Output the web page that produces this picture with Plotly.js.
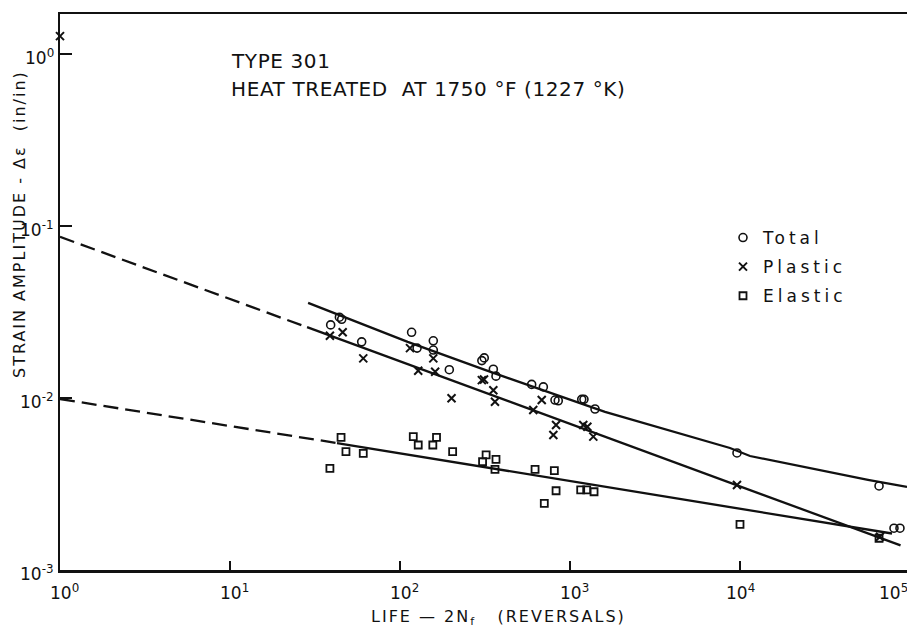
<!DOCTYPE html>
<html>
<head>
<meta charset="utf-8">
<script src="https://cdn.plot.ly/plotly-3.0.1.min.js"></script>
<style>
  html, body { margin: 0; padding: 0; background: #fff; }
  #chart { width: 907px; height: 627px; }
</style>
</head>
<body>
<div id="chart"></div>
<script>
// Type 301 stainless, strain amplitude vs. reversals to failure (log-log)

// Total strain amplitude measurements
const totalN = [39.1, 44.0, 45.4, 59.5, 117, 126, 157, 157, 195, 303, 313, 354, 367, 595, 697, 816, 853, 1172, 1208, 1403, 9600, 65750, 80500, 87300];
const totalE = [0.0266, 0.0295, 0.0287, 0.0212, 0.0241, 0.0195, 0.0215, 0.0190, 0.0146, 0.0165, 0.0171, 0.0147, 0.0134, 0.0120, 0.0116, 0.00973, 0.00964, 0.00982, 0.00982, 0.00863, 0.00479, 0.00308, 0.00175, 0.00175];

// Plastic strain amplitude (first point: fracture ductility at one reversal)
const plasticN = [1, 38.7, 46.0, 60.8, 114.5, 157, 128, 161, 201, 303, 312, 354, 362, 682, 608, 828, 798, 1197, 1265, 1371, 9600, 66600];
const plasticE = [1.27, 0.0230, 0.0241, 0.0170, 0.0195, 0.0170, 0.0144, 0.0142, 0.00996, 0.0127, 0.0128, 0.0111, 0.00952, 0.00973, 0.00851, 0.00697, 0.00609, 0.00697, 0.00681, 0.00596, 0.00312, 0.00156];

// Elastic strain amplitude
const elasticN = [38.7, 45.0, 48.1, 60.8, 119.7, 128, 156, 164, 204, 306, 321, 367, 362, 623, 809, 828, 706, 1156, 1254, 1385, 10000, 65750];
const elasticE = [0.00390, 0.00591, 0.00488, 0.00477, 0.00596, 0.00533, 0.00533, 0.00591, 0.00488, 0.00426, 0.00467, 0.00440, 0.00385, 0.00385, 0.00378, 0.00289, 0.00244, 0.00292, 0.00292, 0.00285, 0.00184, 0.00153];

// Fitted lines (dashed = extrapolation back to one reversal)
const plasticDashN = [1, 28.4];
const plasticDashE = [0.0865, 0.0258];
const plasticFitN = [28.4, 88000];
const plasticFitE = [0.0258, 0.00139];
const elasticDashN = [1, 42.6];
const elasticDashE = [0.00987, 0.00547];
const elasticFitN = [42.6, 78400];
const elasticFitE = [0.00547, 0.00163];
const totalFitN = [28.8, 111, 316, 1607, 8730, 11450, 56600, 96000];
const totalFitE = [0.0357, 0.0212, 0.01456, 0.0083, 0.00512, 0.0046, 0.00334, 0.00304];

// Decade tick labels
const xTickExp = [0, 1, 2, 3, 4, 5];
const yTickExp = [0, -1, -2, -3];

const FONT = 'DejaVu Sans, Liberation Sans, sans-serif';
const INK = '#111';

// page geometry
const W = 907, H = 627;
const M = {l: 60, r: 0, t: 14, b: 57};
const plotW = W - M.l - M.r, plotH = H - M.t - M.b;
const PX_PER_DECADE_X = 170, PX_PER_DECADE_Y = 172;
const px2x = px => (px - M.l) / plotW;          // page px -> paper x
const py2y = py => (H - M.b - py) / plotH;      // page px -> paper y
const spaced = (s, ls) => '<span style="letter-spacing:' + ls + 'px">' + s + '</span>';

const lineStyle = {color: INK, width: 2.3};
const dashStyle = {color: INK, width: 2.3, dash: '15px,7px'};

const traces = [
  {x: plasticDashN, y: plasticDashE, mode: 'lines', line: dashStyle, showlegend: false, hoverinfo: 'skip'},
  {x: plasticFitN, y: plasticFitE, mode: 'lines', line: lineStyle, showlegend: false, hoverinfo: 'skip'},
  {x: elasticDashN, y: elasticDashE, mode: 'lines', line: dashStyle, showlegend: false, hoverinfo: 'skip'},
  {x: elasticFitN, y: elasticFitE, mode: 'lines', line: lineStyle, showlegend: false, hoverinfo: 'skip'},
  {x: totalFitN, y: totalFitE, mode: 'lines', line: lineStyle, showlegend: false, hoverinfo: 'skip'},
  {x: totalN, y: totalE, mode: 'markers', name: spaced('Total', 4), legendgroup: 'a',
   marker: {symbol: 'circle-open', size: 8, color: INK, line: {width: 1.6, color: INK}}, cliponaxis: false},
  {x: plasticN, y: plasticE, mode: 'markers', name: spaced('Plastic', 4), legendgroup: 'b',
   marker: {symbol: 'x-thin-open', size: 8, color: INK, line: {width: 2, color: INK}}, cliponaxis: false},
  {x: elasticN, y: elasticE, mode: 'markers', name: spaced('Elastic', 4), legendgroup: 'c',
   marker: {symbol: 'square-open', size: 7, color: INK, line: {width: 1.8, color: INK}}, cliponaxis: false}
];

const tickFont = {family: FONT, size: 17, color: INK};
const annotations = [];
// x decade labels (the last decade sits at the page edge, so it is placed in paper units)
xTickExp.forEach(k => {
  const onEdge = k * PX_PER_DECADE_X > plotW;
  annotations.push({
    xref: onEdge ? 'paper' : 'x', yref: 'paper',
    x: onEdge ? px2x(893) : k, y: py2y(592),
    xanchor: 'center', yanchor: 'middle',
    xshift: onEdge ? 0 : (k === 4 ? 0 : 4),
    text: '10<sup>' + k + '</sup>', showarrow: false, font: tickFont
  });
});
// y decade labels
yTickExp.forEach(k => {
  annotations.push({
    xref: 'paper', yref: 'y', x: px2x(56), y: k, xanchor: 'right', yanchor: 'middle', yshift: -3,
    text: '10<sup>' + k + '</sup>', showarrow: false, font: tickFont
  });
});
// heading text inside the frame
const headFont = {family: FONT, size: 20, color: INK};
annotations.push({
  xref: 'paper', yref: 'paper', x: px2x(229), y: py2y(61), xanchor: 'left', yanchor: 'middle',
  text: spaced('TYPE 301', 0.6), showarrow: false, font: headFont
});
annotations.push({
  xref: 'paper', yref: 'paper', x: px2x(229), y: py2y(89), xanchor: 'left', yanchor: 'middle',
  text: spaced('HEAT TREATED\u00a0 AT 1750 °F (1227 °K)', 0.6), showarrow: false, font: headFont
});
// axis titles
annotations.push({
  xref: 'paper', yref: 'paper', x: px2x(498), y: py2y(617), xanchor: 'center', yanchor: 'middle',
  text: spaced('LIFE — 2N<sub>f</sub>\u00a0\u00a0 (REVERSALS)', 2), showarrow: false,
  font: {family: FONT, size: 16, color: INK}
});
annotations.push({
  xref: 'paper', yref: 'paper', x: px2x(19), y: py2y(224), xanchor: 'center', yanchor: 'middle',
  textangle: -90,
  text: spaced('STRAIN AMPLITUDE - Δε\u00a0 (in/in)', 2), showarrow: false,
  font: {family: FONT, size: 16, color: INK}
});

const layout = {
  width: W, height: H,
  margin: M,
  paper_bgcolor: '#fff', plot_bgcolor: '#fff',
  font: {family: FONT, color: INK},
  showlegend: true,
  legend: {
    x: px2x(723), y: py2y(220), xanchor: 'left', yanchor: 'top',
    font: {family: FONT, size: 17, color: INK},
    bgcolor: 'rgba(0,0,0,0)', borderwidth: 0,
    traceorder: 'grouped', tracegroupgap: 4
  },
  xaxis: {
    type: 'log', range: [0, plotW / PX_PER_DECADE_X],
    showgrid: false, zeroline: false,
    showline: true, linecolor: INK, linewidth: 2.5, mirror: true,
    ticks: 'inside', ticklen: 9, tickwidth: 2, tickcolor: INK,
    tickvals: [10, 100, 1000, 10000], showticklabels: false
  },
  yaxis: {
    type: 'log', range: [-3, -3 + plotH / PX_PER_DECADE_Y],
    showgrid: false, zeroline: false,
    showline: true, linecolor: INK, linewidth: 2.5,
    ticks: 'inside', ticklen: 12, tickwidth: 2, tickcolor: INK,
    tickvals: [0.01, 0.1, 1], showticklabels: false
  },
  annotations: annotations
};

Plotly.newPlot('chart', traces, layout, {staticPlot: true, displayModeBar: false});
</script>
</body>
</html>
